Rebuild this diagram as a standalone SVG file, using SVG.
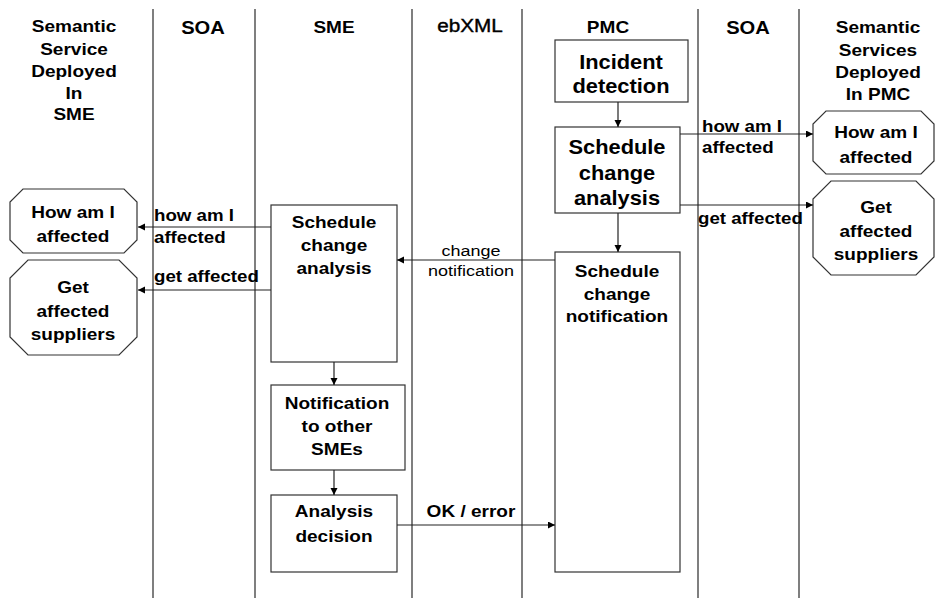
<svg xmlns="http://www.w3.org/2000/svg" width="937" height="598" viewBox="0 0 937 598">
<style>
text{font-family:"Liberation Sans",Arial,sans-serif;fill:#000;}
.b{font-weight:bold;}
.m{text-anchor:middle;transform:scaleX(1.12);transform-box:fill-box;transform-origin:center;}
.s{text-anchor:start;transform:scaleX(1.1);transform-box:fill-box;transform-origin:left center;}
.f17{font-size:17px;}
.f19{font-size:19.5px;}
.r{font-weight:normal;font-size:15px;text-anchor:middle;transform:scaleX(1.2);transform-box:fill-box;transform-origin:center;}
.life{stroke:#555;stroke-width:1.5;fill:none;}
.box{fill:#fff;stroke:#333;stroke-width:1.2;}
.oct{fill:#fff;stroke:#333;stroke-width:1.2;}
.conn line{stroke:#222;stroke-width:1.2;marker-end:url(#ah);}
</style>
<defs>
<marker id="ah" markerUnits="userSpaceOnUse" markerWidth="8" markerHeight="8" refX="7" refY="3.5" orient="auto">
<path d="M0,0 L7,3.5 L0,7 z" fill="#000"/>
</marker>
</defs>
<rect width="937" height="598" fill="#fff"/>
<g id="lifelines">
<line class="life" x1="153" y1="9" x2="153" y2="598"/>
<line class="life" x1="255" y1="9" x2="255" y2="598"/>
<line class="life" x1="412" y1="9" x2="412" y2="598"/>
<line class="life" x1="522" y1="9" x2="522" y2="598"/>
<line class="life" x1="698" y1="9" x2="698" y2="598"/>
<line class="life" x1="799" y1="9" x2="799" y2="598"/>
</g>
<g id="headers" class="b f17">
<text class="m b f17" x="74" y="32">Semantic</text>
<text class="m b f17" x="74" y="55">Service</text>
<text class="m b f17" x="74" y="77">Deployed</text>
<text class="m b f17" x="74" y="99">In</text>
<text class="m b f17" x="74" y="120">SME</text>
<text class="m b" x="203" y="34" style="font-size:18px">SOA</text>
<text class="m b f17" x="334" y="33">SME</text>
<text class="m" x="470" y="32" style="font-size:18.5px;font-weight:normal;stroke:#000;stroke-width:0.4">ebXML</text>
<text class="m b f17" x="608" y="33">PMC</text>
<text class="m b" x="748" y="34" style="font-size:18px">SOA</text>
<text class="m b f17" x="878" y="33">Semantic</text>
<text class="m b f17" x="878" y="56">Services</text>
<text class="m b f17" x="878" y="78">Deployed</text>
<text class="m b f17" x="878" y="100">In PMC</text>
</g>
<g id="pmc-incident">
<rect class="box" x="555" y="40" width="133" height="62"/>
<text class="m b f19" x="621" y="69">Incident</text>
<text class="m b f19" x="621" y="93">detection</text>
</g>
<g id="pmc-analysis">
<rect class="box" x="555" y="127" width="125" height="86"/>
<text class="m b f19" x="617" y="154">Schedule</text>
<text class="m b f19" x="617" y="180">change</text>
<text class="m b f19" x="617" y="205">analysis</text>
</g>
<g id="pmc-notification">
<rect class="box" x="555" y="252" width="125" height="320"/>
<text class="m b f17" x="617" y="277">Schedule</text>
<text class="m b f17" x="617" y="300">change</text>
<text class="m b f17" x="617" y="322">notification</text>
</g>
<g id="sme-analysis">
<rect class="box" x="271" y="205" width="126" height="157"/>
<text class="m b f17" x="334" y="228">Schedule</text>
<text class="m b f17" x="334" y="251">change</text>
<text class="m b f17" x="334" y="274">analysis</text>
</g>
<g id="sme-notify">
<rect class="box" x="271" y="385" width="134" height="85"/>
<text class="m b f17" x="337" y="409">Notification</text>
<text class="m b f17" x="337" y="432">to other</text>
<text class="m b f17" x="337" y="455">SMEs</text>
</g>
<g id="sme-decision">
<rect class="box" x="271" y="495" width="126" height="77"/>
<text class="m b f17" x="334" y="517">Analysis</text>
<text class="m b f17" x="334" y="542">decision</text>
</g>
<g id="sme-howam">
<polygon class="oct" points="23,189 124,189 137,202 137,240 124,253 23,253 10,240 10,202"/>
<text class="m b f17" x="73" y="218">How am I</text>
<text class="m b f17" x="73" y="242">affected</text>
</g>
<g id="sme-getaffected">
<polygon class="oct" points="28,260 119,260 137,278 137,337 119,355 28,355 10,337 10,278"/>
<text class="m b f17" x="73" y="293">Get</text>
<text class="m b f17" x="73" y="317">affected</text>
<text class="m b f17" x="73" y="340">suppliers</text>
</g>
<g id="pmc-howam">
<polygon class="oct" points="826,111 921,111 934,124 934,161 921,174 826,174 813,161 813,124"/>
<text class="m b f17" x="876" y="138">How am I</text>
<text class="m b f17" x="876" y="163">affected</text>
</g>
<g id="pmc-getaffected">
<polygon class="oct" points="831,181 916,181 934,199 934,257 916,275 831,275 813,257 813,199"/>
<text class="m b f17" x="876" y="213">Get</text>
<text class="m b f17" x="876" y="237">affected</text>
<text class="m b f17" x="876" y="260">suppliers</text>
</g>
<g id="connectors" class="conn">
<line x1="618" y1="102" x2="618" y2="127"/>
<line x1="618" y1="213" x2="618" y2="252"/>
<line x1="680" y1="134" x2="813" y2="134"/>
<line x1="680" y1="205" x2="813" y2="205"/>
<line x1="555" y1="260" x2="397" y2="260"/>
<line x1="271" y1="227" x2="138" y2="227"/>
<line x1="271" y1="290" x2="138" y2="290"/>
<line x1="334" y1="362" x2="334" y2="385"/>
<line x1="334" y1="470" x2="334" y2="495"/>
<line x1="397" y1="525" x2="555" y2="525"/>
</g>
<g id="labels">
<text class="s b f17" x="154" y="221">how am I</text>
<text class="s b f17" x="154" y="243">affected</text>
<text class="s b f17" x="154" y="282">get affected</text>
<text class="r" x="471" y="256">change</text>
<text class="r" x="471" y="276">notification</text>
<text class="m b f17" x="471" y="517">OK / error</text>
<text class="s b f17" x="702" y="132">how am I</text>
<text class="s b f17" x="702" y="153">affected</text>
<text class="s b f17" x="698" y="224">get affected</text>
</g>
</svg>
